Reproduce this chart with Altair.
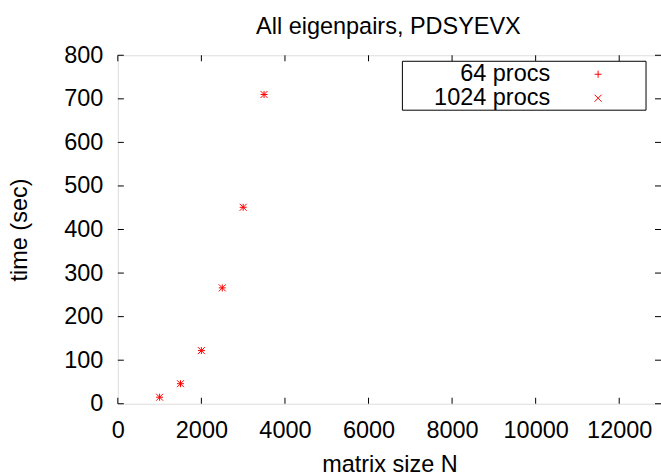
import altair as alt
import pandas as pd

# ---- data ----
series_names = ["64 procs", "1024 procs"]
matrix_size = [1000, 1500, 2000, 2500, 3000, 3500]
time_64 = [15, 46, 122, 266, 451, 710]
time_1024 = [15, 46, 122, 266, 451, 710]
x_ticks = [0, 2000, 4000, 6000, 8000, 10000, 12000]
y_ticks = [0, 100, 200, 300, 400, 500, 600, 700, 800]
chart_title = "All eigenpairs, PDSYEVX"

W, H = 544, 349
FONT = "Liberation Sans"
FS = 23.5
RED = "#ff0000"
PLUS = "M-1,0L1,0M0,-1L0,1"
CROSS = "M-1,-1L1,1M-1,1L1,-1"

df = pd.DataFrame({
    "N": matrix_size * 2,
    "time": time_64 + time_1024,
    "series": [series_names[0]] * len(matrix_size) + [series_names[1]] * len(matrix_size),
})

xscale = alt.Scale(domain=[0, 13000], nice=False, zero=False)
yscale = alt.Scale(domain=[0, 800], nice=False, zero=False)

axis_common = dict(ticks=False, tickSize=0, domain=False, grid=False, format="d",
                   labelFont=FONT, labelFontSize=FS, labelColor="black",
                   titleFont=FONT, titleFontSize=FS, titleFontWeight="normal",
                   titleColor="black", labelFlush=False, labelOverlap=False)

points = alt.Chart(df).mark_point(filled=False, stroke=RED, strokeWidth=1, size=49, opacity=1).encode(
    x=alt.X("N:Q", scale=xscale,
            axis=alt.Axis(values=x_ticks, title="matrix size N", labelPadding=15,
                          titleY=68, titleBaseline="alphabetic", **axis_common)),
    y=alt.Y("time:Q", scale=yscale,
            axis=alt.Axis(values=y_ticks, title="time (sec)", labelPadding=15,
                          titleX=-91, titleY=H / 2, titleAngle=-90, titleAlign="center",
                          titleBaseline="alphabetic", **axis_common)),
    shape=alt.Shape("series:N", scale=alt.Scale(domain=series_names, range=[PLUS, CROSS]), legend=None),
)

TL = 6
xt = pd.DataFrame({"v": x_ticks})
yt = pd.DataFrame({"v": y_ticks})
tick_bottom = alt.Chart(xt).mark_rule(color="black", strokeWidth=1).encode(
    x=alt.X("v:Q", scale=xscale), y=alt.value(H), y2=alt.value(H - TL))
tick_top = alt.Chart(xt).mark_rule(color="black", strokeWidth=1).encode(
    x=alt.X("v:Q", scale=xscale), y=alt.value(0), y2=alt.value(TL))
tick_left = alt.Chart(yt).mark_rule(color="black", strokeWidth=1).encode(
    y=alt.Y("v:Q", scale=yscale), x=alt.value(0), x2=alt.value(TL))
tick_right = alt.Chart(yt).mark_rule(color="black", strokeWidth=1).encode(
    y=alt.Y("v:Q", scale=yscale), x=alt.value(W - TL), x2=alt.value(W))

one = alt.Data(values=[{"a": 1}])

# ---- title ----
title_text = alt.Chart(one).mark_text(text=chart_title, align="center", baseline="alphabetic",
                                      font=FONT, fontSize=FS, color="black").encode(
    x=alt.value(271), y=alt.value(-21))

# ---- manual gnuplot-style legend ----
legend_box = alt.Chart(one).mark_rect(fill="white", stroke="black", strokeWidth=1).encode(
    x=alt.value(285), x2=alt.value(529), y=alt.value(6), y2=alt.value(55))
legend_layers = [legend_box]
for i, (name, shp) in enumerate(zip(series_names, [PLUS, CROSS])):
    yy = 19 + 24 * i
    legend_layers.append(
        alt.Chart(one).mark_text(text=name, align="right", baseline="middle",
                                 font=FONT, fontSize=FS, color="black").encode(
            x=alt.value(433), y=alt.value(yy)))
    legend_layers.append(
        alt.Chart(one).mark_point(shape=shp, filled=False, stroke=RED, strokeWidth=1,
                                  size=49, opacity=1).encode(
            x=alt.value(481), y=alt.value(yy)))

chart = alt.layer(
    tick_bottom, tick_top, tick_left, tick_right, points, title_text, *legend_layers
).properties(
    width=W, height=H,
    autosize=alt.AutoSizeParams(type="none"),
    padding={"left": 118, "top": 55, "right": 0, "bottom": 72},
).configure_view(
    stroke="black", strokeWidth=1
).configure(background="white")

chart.save("out.html", embed_options={"renderer": "svg", "actions": False})
